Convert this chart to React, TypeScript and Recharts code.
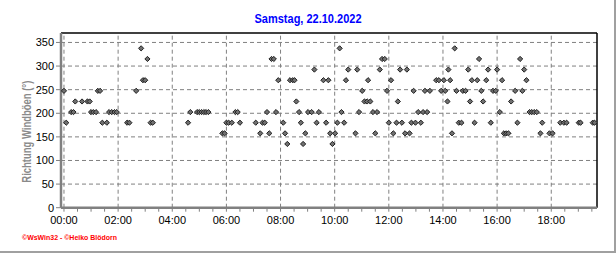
import React from 'react';
import {
  ScatterChart,
  Scatter,
  XAxis,
  YAxis,
  ReferenceLine,
} from 'recharts';

// minutes since midnight and gust direction in degrees
const MINUTES = [
  0, 5, 16, 21, 25, 40, 52, 57, 60, 65, 71, 75, 80, 85, 95, 100, 106, 112, 117, 140, 145, 160, 171, 175, 180, 185, 192, 197,
  275, 280, 295, 300, 305, 310, 315, 320, 351, 356, 360, 365, 372, 380, 385, 390,
  425, 435, 440, 445, 450, 455, 460, 465, 470, 475, 486, 490, 495, 501, 507, 511, 515, 521, 525, 530, 535, 541, 549, 555, 560, 565, 575, 581, 586, 590, 595,
  601, 606, 611, 615, 621, 625, 630, 646, 650, 654, 661, 666, 672, 674, 679, 685, 690, 694, 700, 705, 711, 716, 720, 725, 730, 737, 740, 745, 749, 756, 760, 766, 770, 775, 779, 785, 791, 796, 800, 805, 811,
  825, 831, 836, 842, 845, 850, 852, 856, 860, 866, 870, 875, 881, 884, 890, 896, 900, 904, 910, 916, 920, 925, 929, 936, 940, 946, 951, 957, 960, 966, 971, 975, 980, 985, 991,
  1000, 1005, 1011, 1016, 1020, 1025, 1032, 1037, 1042, 1048, 1056, 1060, 1076, 1083, 1100, 1108, 1114, 1141, 1145, 1172, 1176,
];

const DIRECTIONS = [
  247.5, 180, 202.5, 202.5, 225, 225, 225, 225, 202.5, 202.5, 202.5, 247.5, 247.5, 180, 180, 202.5, 202.5, 202.5, 202.5, 180, 180, 247.5, 337.5, 270, 270, 315, 180, 180,
  180, 202.5, 202.5, 202.5, 202.5, 202.5, 202.5, 202.5, 157.5, 157.5, 180, 180, 180, 202.5, 202.5, 180,
  180, 157.5, 180, 180, 202.5, 157.5, 315, 315, 202.5, 270, 180, 157.5, 135, 270, 270, 270, 225, 202.5, 180, 135, 157.5, 202.5, 202.5, 292.5, 180, 202.5, 270, 180, 270, 157.5, 135,
  157.5, 180, 337.5, 202.5, 180, 270, 292.5, 157.5, 292.5, 202.5, 247.5, 225, 225, 270, 225, 202.5, 157.5, 202.5, 292.5, 315, 315, 247.5, 180, 270, 157.5, 180, 225, 292.5, 180, 157.5, 292.5, 157.5, 180, 247.5, 180, 202.5, 180, 202.5, 247.5, 202.5, 247.5,
  270, 270, 247.5, 270, 247.5, 225, 292.5, 270, 157.5, 337.5, 247.5, 180, 180, 247.5, 247.5, 292.5, 225, 270, 180, 270, 315, 247.5, 225, 270, 292.5, 180, 247.5, 247.5, 292.5, 202.5, 270, 157.5, 157.5, 157.5, 225,
  247.5, 180, 315, 247.5, 292.5, 270, 202.5, 202.5, 202.5, 202.5, 157.5, 180, 157.5, 157.5, 180, 180, 180, 180, 180, 180, 180,
];

const Y_TICKS = [0, 50, 100, 150, 200, 250, 300, 350];
const GRID_HOURS = [0, 2, 4, 6, 8, 10, 12, 14, 16, 18];
const X_DOMAIN = [-6.6, 1181.4];
const Y_MAX = 370;

const data = MINUTES.map((m, i) => ({ t: m, dir: DIRECTIONS[i] }));
const xTicks: number[] = [];
for (let m = 0; m <= 1170; m += 30) xTicks.push(m);

const fmtTime = (m: number) =>
  m % 120 === 0 ? `${String(m / 60).padStart(2, '0')}:00` : '';

const Diamond = (props: any) => {
  const { cx, cy } = props;
  if (cx == null || cy == null) return null;
  const r = 2.6;
  return (
    <polygon
      points={`${cx},${cy - r} ${cx + r},${cy} ${cx},${cy + r} ${cx - r},${cy}`}
      fill="#707070"
      stroke="#202020"
      strokeWidth={1}
    />
  );
};

const font = 'Arial, "Liberation Sans", sans-serif';

const App = () => {
  return (
    <div style={{ position: 'absolute', left: 0, top: 0, width: 616, height: 253, background: '#fff' }}>
      <ScatterChart
        width={616}
        height={253}
        margin={{ top: 33, right: 19, bottom: 15.3, left: 0 }}
        style={{ fontFamily: font }}
      >
        {Y_TICKS.filter((v) => v > 0).map((v) => (
          <ReferenceLine key={`h${v}`} y={v} stroke="#808080" strokeDasharray="4 3" />
        ))}
        {GRID_HOURS.map((h) => (
          <ReferenceLine key={`v${h}`} x={h * 60} stroke="#808080" strokeDasharray="4 3" />
        ))}
        <ReferenceLine y={Y_MAX} stroke="#000" strokeWidth={1.5} />
        <ReferenceLine x={X_DOMAIN[1]} stroke="#000" strokeWidth={1.5} />
        <XAxis
          type="number"
          dataKey="t"
          domain={X_DOMAIN}
          ticks={xTicks}
          tickFormatter={fmtTime}
          interval={0}
          allowDataOverflow
          height={30}
          tickSize={4}
          tickMargin={4}
          axisLine={{ stroke: '#808080', strokeWidth: 2.5 }}
          tickLine={{ stroke: '#808080' }}
          tick={{ fill: '#000', fontSize: 11, fontFamily: font }}
        />
        <YAxis
          type="number"
          dataKey="dir"
          domain={[0, Y_MAX]}
          ticks={Y_TICKS}
          interval={0}
          allowDataOverflow
          width={61}
          tickSize={5}
          tickMargin={2}
          axisLine={{ stroke: '#808080', strokeWidth: 2.5 }}
          tickLine={{ stroke: '#808080' }}
          tick={{ fill: '#000', fontSize: 11, fontFamily: font }}
        />
        <Scatter data={data} shape={Diamond} isAnimationActive={false} />
      </ScatterChart>

      {/* title, axis label, credits and the window edge */}
      <svg width={616} height={253} style={{ position: 'absolute', left: 0, top: 0, pointerEvents: 'none' }}>
        <text
          x={308}
          y={23}
          textAnchor="middle"
          fill="#0000ff"
          fontSize={12}
          fontWeight="bold"
          fontFamily={font}
          textLength={107}
          lengthAdjust="spacingAndGlyphs"
        >
          Samstag, 22.10.2022
        </text>
        <text
          transform="translate(31,131.7) rotate(-90)"
          textAnchor="middle"
          fill="#8a8a8a"
          fontSize={12.5}
          fontWeight="bold"
          fontFamily={font}
          textLength={102}
          lengthAdjust="spacingAndGlyphs"
        >
          Richtung Windböen (°)
        </text>
        <text
          x={22}
          y={240}
          fill="#ff0000"
          fontSize={8}
          fontWeight="bold"
          fontFamily={font}
          textLength={95}
          lengthAdjust="spacingAndGlyphs"
        >
          ©WsWin32 - ©Heiko Blödorn
        </text>
        <line x1={615} y1={0} x2={615} y2={253} stroke="#a0a0a0" strokeWidth={2} />
        <line x1={0} y1={252} x2={616} y2={252} stroke="#a0a0a0" strokeWidth={2} />
      </svg>
    </div>
  );
};

export default App;
